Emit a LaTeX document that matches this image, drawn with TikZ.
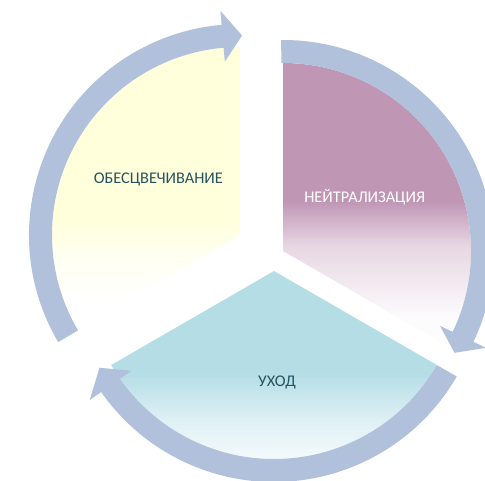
\documentclass[tikz,border=0pt]{standalone}
\usepackage{fontspec}
\setmainfont{Carlito}

\definecolor{ringblue}{RGB}{177,193,220}
\definecolor{mauve}{RGB}{192,150,181}
\definecolor{paleyellow}{RGB}{255,255,220}
\definecolor{paleblue}{RGB}{180,221,230}
\definecolor{darkteal}{RGB}{37,84,96}

% fades: path box runs from 25bp (bottom) to 75bp (top)
\pgfdeclareverticalshading{yellowfade}{100bp}{color(0bp)=(white); color(30bp)=(white);
  color(38bp)=(white!60!paleyellow); color(44.5bp)=(paleyellow); color(100bp)=(paleyellow)}
\pgfdeclareverticalshading{mauvefade}{100bp}{color(0bp)=(white!97!mauve); color(29.5bp)=(white!97!mauve);
  color(42.5bp)=(white!62!mauve); color(50.5bp)=(mauve); color(100bp)=(mauve)}
\pgfdeclareverticalshading{bluefade}{100bp}{color(0bp)=(white!97!paleblue); color(27.5bp)=(white!97!paleblue);
  color(40.7bp)=(white!55!paleblue); color(51.3bp)=(paleblue); color(100bp)=(paleblue)}

\tikzset{
  ringarrow/.style={fill=ringblue},
  label text/.style={font=\fontsize{16.3}{19}\selectfont, text=darkteal}
}

% curved arrow round a sector: centre, tail angle, head base angle, tip angle
\newcommand{\ringarrow}[4]{%
  \fill[ringarrow] ([shift={(#2:211)}]#1) arc[start angle=#2, end angle=#3, radius=211]
    -- ([shift={(#3:225)}]#1) -- ([shift={(#4:199.5)}]#1) -- ([shift={(#3:174)}]#1)
    -- ([shift={(#3:188)}]#1) arc[start angle=#3, end angle=#2, radius=188] -- cycle;}

\begin{document}
\begin{tikzpicture}[x=1pt,y=1pt]
\useasboundingbox (0,0) rectangle (485,480);

\coordinate (obes) at (240,245);
\coordinate (neutr) at (283,229);
\coordinate (care) at (274,209);

% sectors
\shade[shading=yellowfade]
  (obes) -- ([shift={(90:188)}]obes) arc[start angle=90, end angle=210, radius=188] -- cycle;
\shade[shading=mauvefade]
  (neutr) -- ([shift={(-30:188)}]neutr) arc[start angle=-30, end angle=90, radius=188] -- cycle;
\shade[shading=bluefade]
  (care) -- ([shift={(210:188)}]care) arc[start angle=210, end angle=330, radius=188] -- cycle;

% arrows
\ringarrow{obes}{210.5}{95}{89.4}
\ringarrow{neutr}{90.5}{-25.5}{-30.7}
\ringarrow{care}{-30}{-145}{-151}

\node[label text] (t1) at (158.4,300.5) {ОБЕСЦВЕЧИВАНИЕ};
\node[label text, text=white] (t2) at (364.7,282.3) {НЕЙТРАЛИЗАЦИЯ};
\node[label text] (t3) at (277,97.5) {УХОД};
\end{tikzpicture}
\end{document}
